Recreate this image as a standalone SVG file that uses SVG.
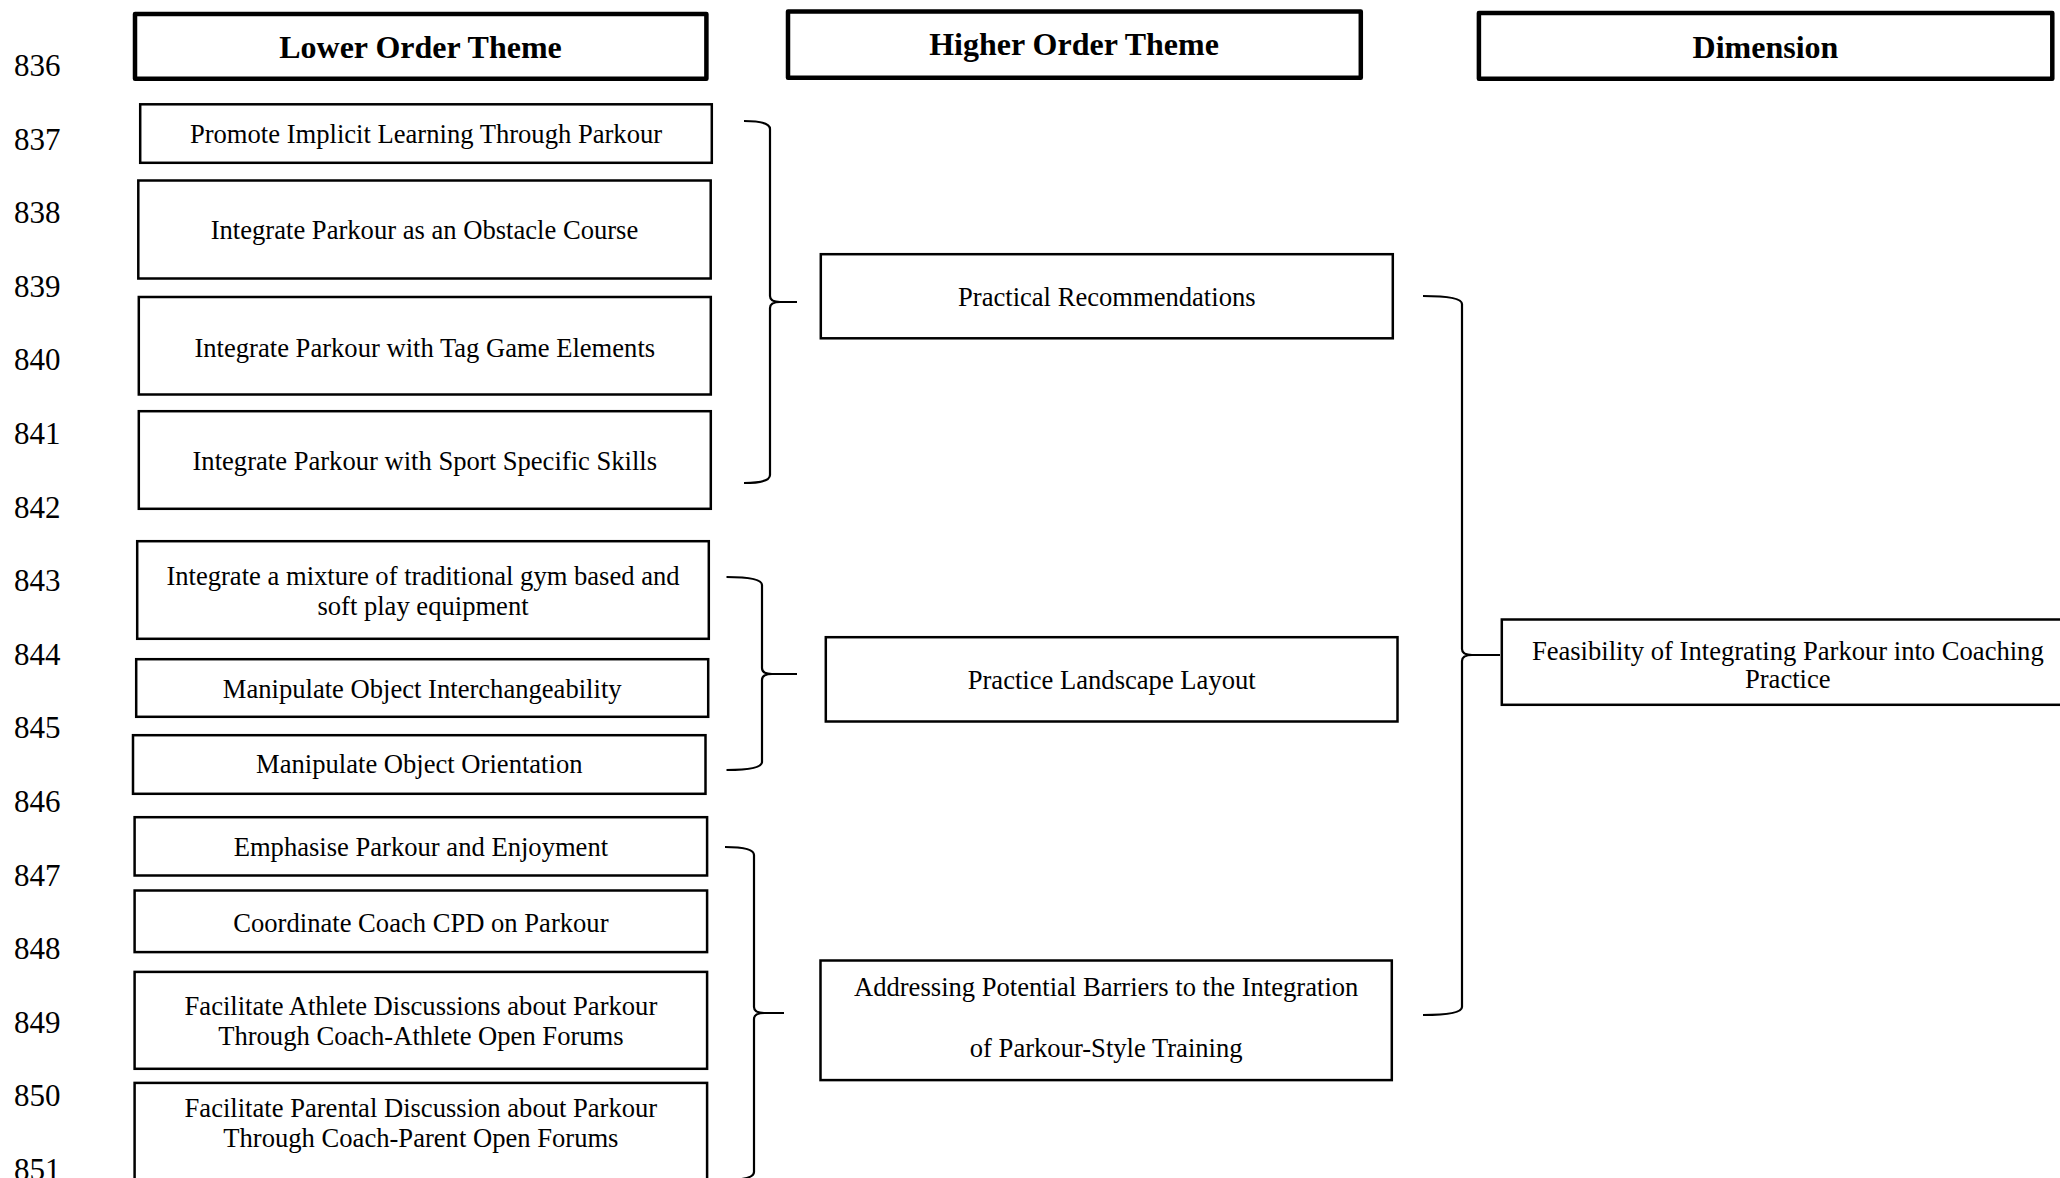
<svg xmlns="http://www.w3.org/2000/svg" width="2060" height="1178" viewBox="0 0 2060 1178">
<style>
text{font-family:"Liberation Serif","Times New Roman",serif;fill:#000}
.num{font-size:31px}
.lbl{font-size:26.6px;text-anchor:middle}
.hdr{font-size:32px;font-weight:bold;text-anchor:middle}
.box{fill:#fff;stroke:#000;stroke-width:2.5}
.hbox{fill:#fff;stroke:#000;stroke-width:4.5;stroke-linejoin:round}
.brace{fill:none;stroke:#000;stroke-width:2.2}
</style>
<rect width="2060" height="1178" fill="#fff"/>
<g id="line-numbers">
<text class="num" x="14" y="76">836</text>
<text class="num" x="14" y="149.6">837</text>
<text class="num" x="14" y="223.2">838</text>
<text class="num" x="14" y="296.8">839</text>
<text class="num" x="14" y="370.4">840</text>
<text class="num" x="14" y="444">841</text>
<text class="num" x="14" y="517.6">842</text>
<text class="num" x="14" y="591.2">843</text>
<text class="num" x="14" y="664.8">844</text>
<text class="num" x="14" y="738.4">845</text>
<text class="num" x="14" y="812">846</text>
<text class="num" x="14" y="885.6">847</text>
<text class="num" x="14" y="959.2">848</text>
<text class="num" x="14" y="1032.8">849</text>
<text class="num" x="14" y="1106.4">850</text>
<text class="num" x="14" y="1180">851</text>
</g>
<g id="header-lower">
<rect class="hbox" x="135" y="14" width="571.4" height="64.7"/>
<text class="hdr" x="420.5" y="58">Lower Order Theme</text>
</g>
<g id="header-higher">
<rect class="hbox" x="788" y="11.6" width="572.8" height="66.2"/>
<text class="hdr" x="1074" y="55">Higher Order Theme</text>
</g>
<g id="header-dimension">
<rect class="hbox" x="1478.9" y="13" width="573.4" height="65.7"/>
<text class="hdr" x="1765.5" y="58">Dimension</text>
</g>
<g id="lot-implicit">
<rect class="box" x="140.2" y="104.3" width="571.6" height="58.5"/>
<text class="lbl" x="426" y="143">Promote Implicit Learning Through Parkour</text>
</g>
<g id="lot-obstacle">
<rect class="box" x="138.3" y="180.5" width="572.4" height="98"/>
<text class="lbl" x="424.5" y="238.5">Integrate Parkour as an Obstacle Course</text>
</g>
<g id="lot-tag">
<rect class="box" x="138.8" y="297" width="572" height="97.5"/>
<text class="lbl" x="424.8" y="356.5">Integrate Parkour with Tag Game Elements</text>
</g>
<g id="lot-sport">
<rect class="box" x="138.8" y="411.2" width="572" height="97.6"/>
<text class="lbl" x="424.8" y="470">Integrate Parkour with Sport Specific Skills</text>
</g>
<g id="lot-mixture">
<rect class="box" x="137.2" y="541.2" width="571.6" height="97.6"/>
<text class="lbl" x="423" y="585">Integrate a mixture of traditional gym based and</text>
<text class="lbl" x="423" y="615">soft play equipment</text>
</g>
<g id="lot-interchange">
<rect class="box" x="136.2" y="659.2" width="572" height="57.6"/>
<text class="lbl" x="422.2" y="698">Manipulate Object Interchangeability</text>
</g>
<g id="lot-orientation">
<rect class="box" x="133" y="735.2" width="572.5" height="58.6"/>
<text class="lbl" x="419.3" y="773">Manipulate Object Orientation</text>
</g>
<g id="lot-enjoyment">
<rect class="box" x="134.6" y="817.2" width="572.5" height="58.3"/>
<text class="lbl" x="420.9" y="855.7">Emphasise Parkour and Enjoyment</text>
</g>
<g id="lot-cpd">
<rect class="box" x="134.6" y="890.5" width="572.5" height="61.6"/>
<text class="lbl" x="420.9" y="931.7">Coordinate Coach CPD on Parkour</text>
</g>
<g id="lot-athlete">
<rect class="box" x="134.6" y="971.9" width="572.5" height="96.9"/>
<text class="lbl" x="420.9" y="1015">Facilitate Athlete Discussions about Parkour</text>
<text class="lbl" x="420.9" y="1045">Through Coach-Athlete Open Forums</text>
</g>
<g id="lot-parental">
<rect class="box" x="134.6" y="1082.9" width="572.5" height="110"/>
<text class="lbl" x="420.9" y="1117.3">Facilitate Parental Discussion about Parkour</text>
<text class="lbl" x="420.9" y="1146.7">Through Coach-Parent Open Forums</text>
</g>
<g id="hot-practical">
<rect class="box" x="820.8" y="254.2" width="572" height="84.1"/>
<text class="lbl" x="1106.8" y="306">Practical Recommendations</text>
</g>
<g id="hot-landscape">
<rect class="box" x="825.8" y="637.2" width="571.7" height="84.3"/>
<text class="lbl" x="1111.7" y="689.3">Practice Landscape Layout</text>
</g>
<g id="hot-barriers">
<rect class="box" x="820.5" y="960.5" width="571.3" height="119.6"/>
<text class="lbl" x="1106.2" y="995.7">Addressing Potential Barriers to the Integration</text>
<text class="lbl" x="1106.2" y="1056.7">of Parkour-Style Training</text>
</g>
<g id="dim-feasibility">
<rect class="box" x="1501.8" y="619.5" width="572" height="85.3"/>
<text class="lbl" x="1787.8" y="660">Feasibility of Integrating Parkour into Coaching</text>
<text class="lbl" x="1787.8" y="687.5">Practice</text>
</g>
<g id="connectors">
<path class="brace" d="M744,121 Q770,121 770,129 L770,296 Q770,302 780,302 L797,302 M780,302 Q770,302 770,308 L770,475 Q770,483 744,483"/>
<path class="brace" d="M726.5,577 Q762,577 762,585 L762,668 Q762,674 772,674 L797,674 M772,674 Q762,674 762,680 L762,762 Q762,770 726.5,770"/>
<path class="brace" d="M725,847 Q754,847 754,855 L754,1007 Q754,1013 764,1013 L784,1013 M764,1013 Q754,1013 754,1019 L754,1172 Q754,1180 725,1180"/>
<path class="brace" d="M1423,296 Q1462,296 1462,304 L1462,649 Q1462,655 1472,655 L1500,655 M1472,655 Q1462,655 1462,661 L1462,1007 Q1462,1015 1423,1015"/>
</g>
</svg>
